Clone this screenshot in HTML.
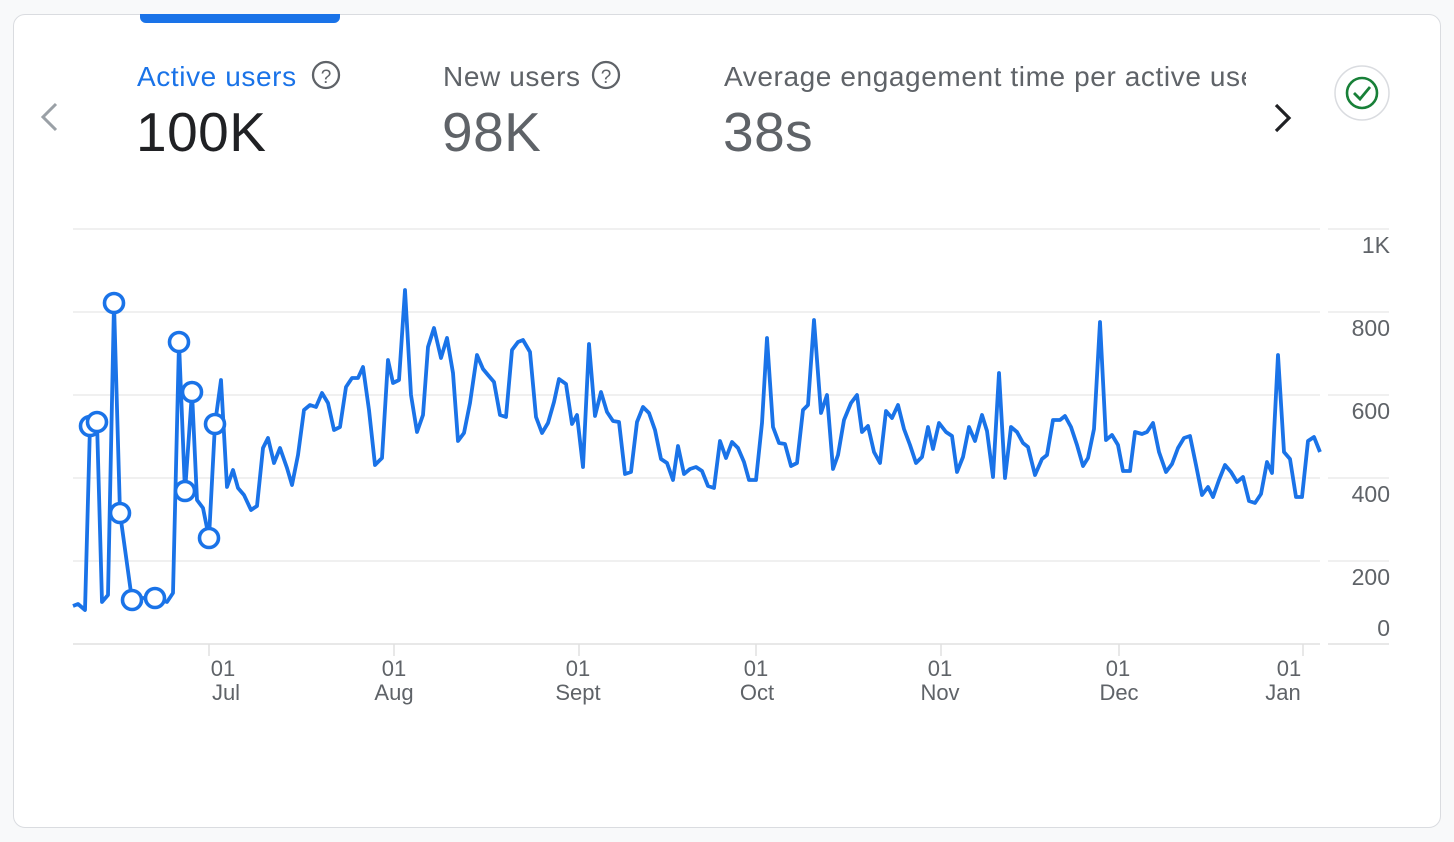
<!DOCTYPE html>
<html><head><meta charset="utf-8"><style>
html,body{margin:0;padding:0;width:1454px;height:842px;background:#f8f9fa;overflow:hidden;font-family:"Liberation Sans",Arial,sans-serif}
.card{position:absolute;left:13px;top:14px;width:1426px;height:812px;background:#fff;border:1.5px solid #dadce0;border-radius:12px}
.tab{position:absolute;left:140px;top:14px;width:200px;height:9px;background:#1a73e8;border-radius:0 0 6px 6px}
.t{position:absolute;white-space:nowrap}
.h{font-size:28px;letter-spacing:0.6px}
.v{font-size:55px;letter-spacing:0.5px}
</style></head><body>
<div class="card"></div>
<div class="tab"></div>
<div class="t h" style="left:137px;top:61px;color:#1a73e8">Active users</div>
<div class="t v" style="left:136px;top:100px;color:#202124">100K</div>
<div class="t h" style="left:443px;top:61px;color:#5f6368">New users</div>
<div class="t v" style="left:442px;top:100px;color:#5f6368">98K</div>
<div class="t h" style="left:724px;top:61px;color:#5f6368;width:522px;overflow:hidden">Average engagement time per active user</div>
<div class="t v" style="left:723px;top:100px;color:#5f6368">38s</div>
<svg width="1454" height="842" style="position:absolute;left:0;top:0">
<g fill="none" stroke="#5f6368" stroke-width="2.3">
<circle cx="326" cy="75" r="13"/><circle cx="606" cy="75" r="13"/>
</g>
<text x="326" y="83" font-size="19" text-anchor="middle" fill="#5f6368" font-family="Liberation Sans">?</text>
<text x="606" y="83" font-size="19" text-anchor="middle" fill="#5f6368" font-family="Liberation Sans">?</text>
<polyline points="56,104 43,117 56,130" fill="none" stroke="#9aa0a6" stroke-width="3"/>
<polyline points="1276,105 1289,118 1276,131" fill="none" stroke="#202124" stroke-width="3.2"/>
<circle cx="1362" cy="93" r="27" fill="#fff" stroke="#dadce0" stroke-width="1.5"/>
<circle cx="1362" cy="93" r="15" fill="none" stroke="#188038" stroke-width="2.6"/>
<polyline points="1354,93 1360,99 1370,87" fill="none" stroke="#188038" stroke-width="2.8"/>
<g stroke="#ebebeb" stroke-width="1.5">
<line x1="73" y1="229" x2="1320" y2="229"/><line x1="1328" y1="229" x2="1389" y2="229"/>
<line x1="73" y1="312" x2="1320" y2="312"/><line x1="1328" y1="312" x2="1389" y2="312"/>
<line x1="73" y1="395" x2="1320" y2="395"/><line x1="1328" y1="395" x2="1389" y2="395"/>
<line x1="73" y1="478" x2="1320" y2="478"/><line x1="1328" y1="478" x2="1389" y2="478"/>
<line x1="73" y1="561" x2="1320" y2="561"/><line x1="1328" y1="561" x2="1389" y2="561"/>
</g>
<g stroke="#e0e0e0" stroke-width="1.5">
<line x1="73" y1="644" x2="1320" y2="644"/><line x1="1328" y1="644" x2="1389" y2="644"/>
<line x1="209" y1="644" x2="209" y2="656"/><line x1="394" y1="644" x2="394" y2="656"/><line x1="579" y1="644" x2="579" y2="656"/><line x1="756" y1="644" x2="756" y2="656"/><line x1="941" y1="644" x2="941" y2="656"/><line x1="1119" y1="644" x2="1119" y2="656"/><line x1="1303" y1="644" x2="1303" y2="656"/>
</g>
<g font-family="Liberation Sans" font-size="23" fill="#5f6368" text-anchor="end">
<text x="1390" y="253">1K</text><text x="1390" y="336">800</text><text x="1390" y="419">600</text><text x="1390" y="502">400</text><text x="1390" y="585">200</text><text x="1390" y="636">0</text>
</g>
<g font-family="Liberation Sans" font-size="22" fill="#5f6368" text-anchor="middle">
<text x="223" y="676">01</text><text x="226" y="700">Jul</text>
<text x="394" y="676">01</text><text x="394" y="700">Aug</text>
<text x="578" y="676">01</text><text x="578" y="700">Sept</text>
<text x="756" y="676">01</text><text x="757" y="700">Oct</text>
<text x="940" y="676">01</text><text x="940" y="700">Nov</text>
<text x="1118" y="676">01</text><text x="1119" y="700">Dec</text>
<text x="1289" y="676">01</text><text x="1283" y="700">Jan</text>
</g>
<polyline fill="none" stroke="#1a73e8" stroke-width="3.8" stroke-linejoin="round" points="73,606 78,604 85,610 90,425 97,422 102,602 108,595 114,303 120,513 132,600 142,598 155,598 167,602 173,593 179,342 185,492 192,392 197,500 203,508 209,538 215,424 221,380 227,487 233,470 238,488 244,495 251,510 257,506 263,448 268,438 274,463 280,448 287,468 292,485 298,455 304,410 310,405 316,407 322,393 328,403 334,430 340,427 346,387 352,378 358,378 363,367 369,410 375,465 382,458 388,360 393,383 399,380 405,290 411,395 417,432 423,415 428,347 434,328 441,358 447,338 453,373 458,441 464,433 470,403 477,355 483,369 488,375 494,382 500,415 506,417 512,350 518,342 523,340 530,352 536,417 542,433 548,423 554,402 559,379 566,384 572,424 577,415 583,467 589,344 595,416 601,392 607,412 613,421 619,422 625,474 631,472 637,422 643,407 649,413 655,430 661,459 667,463 673,480 678,446 684,474 690,469 696,467 702,471 708,486 714,488 720,441 726,458 732,442 738,448 744,462 749,480 756,480 762,423 767,338 773,427 779,443 785,444 791,466 797,463 803,410 808,405 814,320 821,413 827,395 833,469 838,455 844,420 851,403 857,395 862,432 868,426 874,452 880,463 886,411 892,418 898,405 904,429 910,445 916,463 922,457 928,427 933,449 939,423 946,432 952,436 957,472 963,457 969,427 975,441 982,415 987,431 993,477 999,373 1005,478 1011,427 1017,432 1023,443 1028,447 1035,475 1042,459 1047,455 1053,420 1060,420 1065,416 1071,427 1077,445 1083,466 1088,458 1094,429 1100,322 1106,440 1112,435 1118,445 1123,471 1130,471 1135,432 1142,434 1147,432 1153,423 1159,452 1166,472 1172,464 1178,448 1184,438 1190,436 1196,465 1202,495 1208,487 1213,497 1219,480 1225,465 1231,472 1237,482 1243,477 1249,501 1255,503 1261,494 1267,462 1272,473 1278,355 1284,452 1290,459 1296,497 1302,497 1308,441 1314,437 1320,452"/>
<g fill="#fff" stroke="#1a73e8" stroke-width="3.6">
<circle cx="90" cy="426" r="9.5"/><circle cx="97" cy="422" r="9.5"/><circle cx="114" cy="303" r="9.5"/><circle cx="120" cy="513" r="9.5"/><circle cx="132" cy="600" r="9.5"/><circle cx="155" cy="598" r="9.5"/><circle cx="179" cy="342" r="9.5"/><circle cx="185" cy="491" r="9.5"/><circle cx="192" cy="392" r="9.5"/><circle cx="209" cy="538" r="9.5"/><circle cx="215" cy="424" r="9.5"/>
</g>
</svg>
</body></html>
